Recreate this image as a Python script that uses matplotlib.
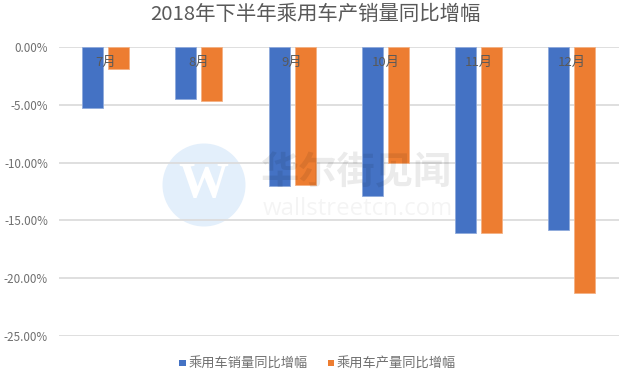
import numpy as np
import matplotlib
matplotlib.use("Agg")
import matplotlib.pyplot as plt
from matplotlib.patches import Circle, Rectangle

plt.rcParams["font.family"] = ["Noto Sans CJK SC", "DejaVu Sans"]

months = ["7月", "8月", "9月", "10月", "11月", "12月"]
sales = [-5.3, -4.5, -12.0, -12.9, -16.05, -15.8]
output = [-1.9, -4.67, -11.9, -10.0, -16.05, -21.3]
yticks = [0, -5, -10, -15, -20, -25]
title = "2018年下半年乘用车产销量同比增幅"
names = ["乘用车销量同比增幅", "乘用车产量同比增幅"]

W, H = 633, 382
fig = plt.figure(figsize=(W / 100, H / 100), dpi=100)
ax = fig.add_axes([59 / W, 1 - 336 / H, 559.5 / W, 289 / H])
ax.patch.set_visible(False)

x = np.arange(len(months))
bw = 0.225
ax.bar(x - 0.14, sales, bw, color="#4472c4", edgecolor="#8faadc", linewidth=0.6, zorder=2)
ax.bar(x + 0.14, output, bw, color="#ed7d31", edgecolor="#f4b183", linewidth=0.6, zorder=2)

ax.set_xlim(-0.5, 5.5)
ax.set_ylim(-25, 0)
ax.set_yticks(yticks)
ax.set_yticklabels(["%.2f%%" % v for v in yticks], fontsize=8.4, color="#6f6f6f")
ax.set_xticks([])
ax.tick_params(axis="y", length=0, pad=8)
ax.grid(axis="y", color="#dcdcdc", linewidth=1.3, zorder=1)
ax.set_axisbelow(True)
for s in ax.spines.values():
    s.set_visible(False)

# month labels sit inside the plot, just under the zero line
for i, m in enumerate(months):
    ax.text(i, -1.33, m, ha="center", va="center", fontsize=9.5, color="#595959", zorder=3)

fig.text(315 / W, 1 - 15 / H, title, ha="center", va="center", fontsize=14.7, color="#595959")

# legend
for px, c, n in [(179, "#4472c4", names[0]), (327.5, "#ed7d31", names[1])]:
    fig.add_artist(Rectangle((px / W, 1 - 366 / H), 6.5 / W, 6 / H, transform=fig.transFigure,
                             facecolor=c, edgecolor="none"))
    fig.text((px + 9.5) / W, 1 - 364 / H, n, ha="left", va="center", fontsize=9.5, color="#6f6f6f")

# watermark, the circle stays behind the gridlines
circle = Circle((204, H - 185), 41.5, transform=None, facecolor="#e3effb", edgecolor="none", zorder=-2)
fig.add_artist(circle)
fig.text(203 / W, 1 - 185 / H, "W", ha="center", va="center", fontsize=36, family="Liberation Serif",
         weight="bold", color="white", zorder=-1)
fig.text(357 / W, 1 - 173 / H, "华尔街见闻", ha="center", va="center", fontsize=27.5, weight="bold",
         color="#000000", alpha=0.08, zorder=6)
fig.text(357.5 / W, 1 - 209 / H, "wallstreetcn.com", ha="center", va="center", fontsize=17.3,
         family="Open Sans", color="#000000", alpha=0.045, zorder=6)

fig.savefig("out.png", dpi=100)
